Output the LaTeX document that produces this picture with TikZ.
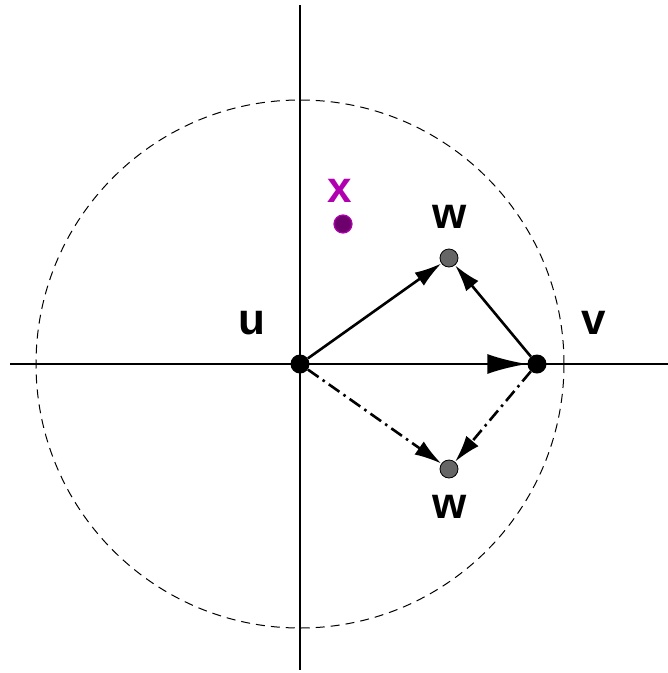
\documentclass[tikz,border=0pt]{standalone}
\usepackage{fontspec}
\setmainfont{Liberation Sans}
\usetikzlibrary{arrows.meta}
\definecolor{xmag}{HTML}{B000B0}
\definecolor{xdark}{HTML}{6E006E}
\definecolor{wgray}{HTML}{666666}
\begin{document}
\begin{tikzpicture}[x=1pt,y=-1pt,
  lbl/.style={font=\fontsize{44}{48}\selectfont\bfseries},
  bigdot/.style={circle,fill=black,inner sep=0pt,minimum size=19pt},
  wdot/.style={circle,fill=wgray,draw=black,line width=0.8pt,inner sep=0pt,minimum size=18pt},
  xdot/.style={circle,fill=xdark,draw=xmag,line width=1.2pt,inner sep=0pt,minimum size=18pt},
  axis/.style={line width=1.3pt},
  vec/.style={line width=2.6pt,-{Latex[length=27pt,width=16pt]}},
  dd/.style={vec,dash pattern=on 13pt off 5pt on 2.5pt off 5pt}]
\useasboundingbox (0,0) rectangle (668,673);
\draw[axis] (300,5) -- (300,670);
\draw[axis] (10,364) -- (668,364);
\draw[line width=1pt,dash pattern=on 9pt off 6pt] (300,364) circle[radius=264];
\node[bigdot] (u) at (300,364) {};
\node[bigdot] (v) at (537,364) {};
\node[wdot] (w1) at (449,258) {};
\node[wdot] (w2) at (449,469) {};
\node[xdot] (x) at (343,224) {};
\node[lbl] (lu) at (252,323) {u};
\node[lbl] (lv) at (594,323) {v};
\node[lbl] (lw1) at (450,217) {w};
\node[lbl] (lw2) at (450,507) {w};
\node[lbl,text=xmag] (lx) at (340,191) {x};
\draw[vec] (u) -- (w1);
\draw[vec] (v) -- (w1);
\draw[dd] (u) -- (w2);
\draw[dd] (v) -- (w2);
\draw[line width=2.6pt,-{Latex[length=40pt,width=20pt]}] (u) -- (v);
\end{tikzpicture}
\end{document}
